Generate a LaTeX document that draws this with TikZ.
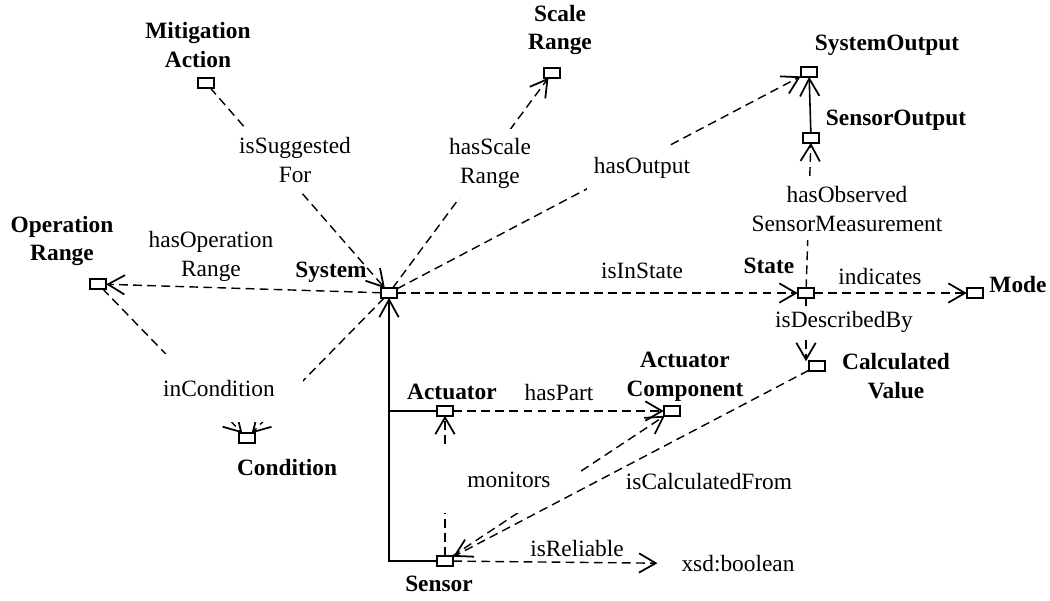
\documentclass[tikz,border=0pt]{standalone}
\usepackage{fontspec}
\setmainfont{Liberation Serif}
\usetikzlibrary{arrows.meta}
\newcommand\diagfont{\fontsize{13.3}{16.4}\selectfont}
\tikzset{
  cls/.style = {draw, fill=white, line width=1.2pt, minimum width=0.33cm,
                minimum height=0.19cm, inner sep=0pt, outer sep=0pt},
  cname/.style = {font=\diagfont\bfseries, align=center, inner sep=1pt},
  prop/.style = {font=\diagfont, align=center, inner sep=1pt},
  gap/.style = {prop, fill=white, minimum width=#1},
  gap/.default = 2.4cm,
  rel/.style = {dash pattern=on 5pt off 3pt, line width=0.8pt,
                -{Straight Barb[length=9.5pt,width=11pt,line width=1pt]}},
  isa/.style = {line width=#1, -{Straight Barb[length=10pt,width=11pt,line width=1pt]}},
  isa/.default = 1.2pt
}

\begin{document}
\begin{tikzpicture}[x=0.02cm, y=-0.02cm]
	\useasboundingbox (0,0) rectangle (1050,600);

	% Classes
	\node[cls] (ma)    at (206,83)  {};
	\node[cls] (sr)    at (552,73)  {};
	\node[cls] (so)    at (809,72)  {};
	\node[cls] (sout)  at (811,138) {};
	\node[cls] (opr)   at (98,284)  {};
	\node[cls] (sys)   at (389,293) {};
	\node[cls] (state) at (806,293) {};
	\node[cls] (mode)  at (975,293) {};
	\node[cls] (cv)    at (817,366) {};
	\node[cls] (cond)  at (247,438) {};
	\node[cls] (act)   at (445,411) {};
	\node[cls] (ac)    at (672,411) {};
	\node[cls] (sen)   at (445,561) {};
	\node[prop] (xsd)  at (738,564) {xsd:boolean};

	% Class names
	\node[cname] (ma-l)    at (198,45)  {Mitigation\\Action};
	\node[cname] (sr-l)    at (560,30)  {Scale\\Range};
	\node[cname] (so-l)    at (887,45)  {SystemOutput};
	\node[cname] (sout-l)  at (896,120) {SensorOutput};
	\node[cname] (opr-l)   at (62,241)  {Operation\\Range};
	\node[cname] (sys-l)   at (331,272) {System};
	\node[cname] (state-l) at (769,266) {State};
	\node[cname] (mode-l)  at (1018,284) {Mode};
	\node[cname] (cv-l)    at (896,376) {Calculated\\Value};
	\node[cname] (cond-l)  at (287,467) {Condition};
	\node[cname] (act-l)   at (452,392) {Actuator};
	\node[cname] (ac-l)    at (685,377) {Actuator\\Component};
	\node[cname] (sen-l)   at (439,584) {Sensor};

	% Subclasses
	\draw[isa] (sen.west) -| (sys.south);
	\draw[line width=1.2pt] (act.west) -- (act.west -| sys.south);
	\draw[isa=0.9pt] (sout) -- (so);

	% Object properties
	\draw[rel] (ma) -- (sys);
	\draw[rel] (sys) -- (sr);
	\draw[rel] (sys) -- (so);
	\draw[rel] (sys) -- (opr);
	\draw[rel] (sys) -- (state);
	\draw[rel] (state) -- (mode);
	\draw[rel] (state) -- (sout);
	\draw[rel] (state) -- (state |- cv.north);
	\draw[rel] (opr) -- (cond);
	\draw[rel] (sys) -- (cond);
	\draw[rel] (act) -- (ac);
	\draw[rel] (sen) -- (act);
	\draw[rel] (sen) -- (ac);

	% Property names
	\node[gap=2.5cm, minimum height=1.28cm] (sug-l) at (295,160) {isSuggested\\For};
	\node[gap=2.3cm, minimum height=1.38cm] (scl-l) at (490,163) {hasScale\\Range};
	\node[gap=2.2cm, minimum height=0.88cm] (out-l) at (642,168) {hasOutput};
	\node[gap=4.0cm, minimum height=1.24cm] (obs-l) at (847,209) {hasObserved\\SensorMeasurement};
	\node[gap=2.9cm, minimum height=0.66cm] (dsc-l) at (844,322) {isDescribedBy};
	\node[gap=3.36cm, minimum height=1.36cm] (cnd-l) at (219,388) {inCondition};
	\node[gap=2.76cm, minimum height=1.30cm] (mon-l) at (509,480) {monitors};
	\node[prop] (opr-p) at (211,256) {hasOperation\\Range};
	\node[prop] (ins-l) at (642,271) {isInState};
	\node[prop] (ind-l) at (880,276) {indicates};
	\node[prop] (prt-l) at (559,392) {hasPart};
	\node[prop] (clc-l) at (709,481) {isCalculatedFrom};
	\node[prop] (rel-l) at (577,548) {isReliable};

	\draw[rel] (cv) -- (sen);
	\draw[rel, shorten >=0.44cm] (sen) -- (xsd);

\end{tikzpicture}
\end{document}
